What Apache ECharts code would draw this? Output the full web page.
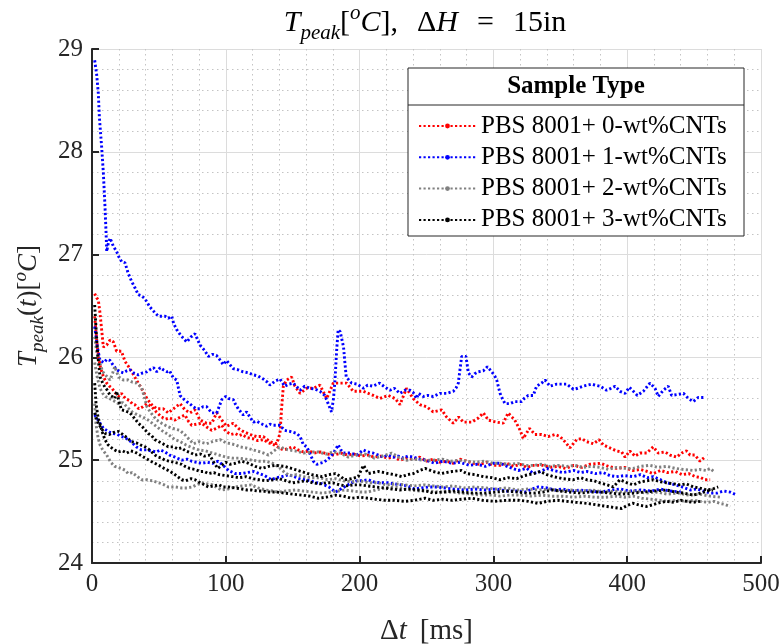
<!DOCTYPE html>
<html><head><meta charset="utf-8">
<script src="https://cdn.jsdelivr.net/npm/echarts@6/dist/echarts.min.js"></script>
<style>html,body{margin:0;padding:0;background:#fff}#c{width:782px;height:644px}</style>
</head><body><div id="c"></div>
<script>
// ---------- data ----------
const sampleNames = ['PBS 8001+ 0-wt%CNTs','PBS 8001+ 1-wt%CNTs','PBS 8001+ 2-wt%CNTs','PBS 8001+ 3-wt%CNTs'];
const xTicks = [0,100,200,300,400,500];
const yTicks = [24,25,26,27,28,29];

const red1 = [[2,26.62],[3.5,26.58],[4.7,26.56],[6,26.43],[7.2,26.27],[8.5,26.10],[11,26.12],[13.5,26.17],[16,26.15],[18.4,26.06],[22,26.06],[24.7,25.96],[28.4,25.89],[31,25.83],[34.6,25.75],[37,25.70],[41,25.60],[44.6,25.54],[48.4,25.50],[53.3,25.50],[57,25.46],[60.8,25.50],[65.8,25.55],[69.5,25.49],[73.2,25.46],[77,25.49],[80.7,25.39],[85.7,25.36],[89.5,25.36],[93.2,25.46],[97,25.39],[100.6,25.33],[105.6,25.36],[109.3,25.31],[113,25.28],[118,25.25],[123,25.23],[128,25.23],[133,25.18],[138,25.16],[140.5,25.26],[141.8,25.52],[143,25.72],[145.5,25.78],[149.2,25.81],[151.7,25.72],[155.5,25.65],[160.5,25.70],[165.4,25.70],[170.4,25.73],[175.4,25.60],[180.3,25.75],[186.6,25.75],[190.3,25.75],[195.3,25.67],[202.8,25.67],[210.2,25.63],[215.2,25.60],[221.4,25.63],[226.5,25.60],[230.2,25.54],[235,25.70],[240,25.60],[245,25.54],[250,25.52],[255,25.47],[261.4,25.49],[265,25.42],[270,25.36],[274,25.42],[277.5,25.37],[283.8,25.37],[288.7,25.41],[292.5,25.46],[296.2,25.39],[302.5,25.37],[307.4,25.36],[311,25.46],[316,25.39],[320,25.29],[322.3,25.21],[327,25.31],[331,25.25],[336,25.25],[341,25.23],[346,25.25],[349.8,25.23],[353.5,25.18],[357.2,25.12],[362.2,25.20],[366,25.21],[369.7,25.18],[374.7,25.16],[379,25.20],[382,25.15],[387,25.12],[392,25.09],[395.9,25.08],[398.4,25.03],[402,25.09],[405.8,25.04],[409.6,25.07],[414.6,25.07],[419.5,25.13],[423.2,25.07],[428.3,25.08],[432,25.05],[437,25.03],[440.7,25.07],[444.4,25.09],[447,25.05],[450.6,25.05],[454.4,24.99],[458,25.03]];

const red2 = [[2,26.4],[3,26.25],[4,26.1],[5,26.0],[6,25.92],[7.5,25.85],[9,25.80],[11,25.75],[13,25.72],[15,25.70],[17,25.66],[20,25.62],[22,25.65],[25,25.60],[28,25.58],[30,25.55],[32,25.54],[35,25.50],[38,25.52],[41,25.55],[44.6,25.52],[48,25.47],[52,25.42],[55,25.40],[58,25.41],[62,25.39],[66,25.42],[69.5,25.44],[72,25.38],[74.5,25.34],[78,25.35],[82,25.36],[86,25.32],[89.5,25.29],[93,25.31],[97,25.34],[100,25.28],[104,25.25],[107,25.26],[110,25.24],[112,25.25],[116,25.22],[120,25.21],[124,25.19],[128,25.20],[132,25.17],[136,25.15],[140,25.12],[143,25.10],[146,25.11],[150,25.13],[154,25.10],[158,25.08],[162,25.09],[166,25.07],[171,25.08],[176,25.06],[181,25.05],[186,25.07],[191,25.05],[196,25.06],[201,25.04],[206,25.05],[211,25.03],[216,25.04],[221,25.02],[226,25.03],[230,25.00],[235,25.02],[240,25.01],[245,25.03],[250,24.99],[255,25.01],[260,24.98],[265,24.99],[270,24.97],[275,25.01],[280,24.99],[285,24.97],[290,24.96],[295,24.98],[300,24.95],[305,24.95],[310,24.97],[315,24.94],[320,24.96],[325,24.93],[330,24.95],[337,24.95],[342,24.93],[348,24.94],[354,24.92],[360,24.95],[366,24.93],[372,24.96],[380,24.97],[386,24.94],[392,24.92],[398,24.93],[404,24.90],[410,24.91],[415,24.89],[419.5,24.87],[425,24.90],[430,24.88],[436,24.89],[441,24.86],[446,24.87],[451,24.84],[455,24.83],[458,24.81],[462,24.81]];

const blue1 = [[2,28.89],[3.5,28.75],[4.7,28.57],[5.5,28.34],[6.3,28.2],[7.2,28.05],[8.5,27.79],[9.7,27.47],[10.4,27.25],[11,27.03],[12,27.1],[13.5,27.16],[16,27.08],[18.4,27.03],[20,26.98],[22.2,26.93],[24.7,26.92],[27,26.82],[29.6,26.74],[32,26.68],[34.6,26.61],[37,26.6],[39.6,26.57],[43.3,26.49],[46,26.45],[49.6,26.40],[52,26.40],[54.6,26.40],[57,26.38],[59.6,26.40],[61,26.33],[63.3,26.27],[66,26.22],[68,26.19],[70.8,26.15],[74,26.2],[77,26.23],[80.7,26.12],[84,26.07],[87,26.01],[90,26.03],[93,26.02],[96,25.97],[98,25.93],[100.6,25.97],[103,25.93],[105.6,25.89],[109,25.88],[113,25.86],[117,25.85],[120.6,25.83],[124,25.82],[128,25.79],[131,25.76],[133,25.73],[137,25.77],[140.5,25.79],[144,25.72],[147,25.74],[150.5,25.75],[155.5,25.68],[159,25.72],[163,25.70],[167,25.69],[170.4,25.67],[174,25.63],[176.5,25.55],[179,25.47],[180.5,25.6],[181.6,25.78],[183,26.1],[184,26.27],[185.5,26.25],[188,26.10],[189,25.95],[190,25.81],[194,25.75],[198,25.74],[203,25.70],[206,25.73],[210,25.72],[215,25.75],[219,25.71],[222.7,25.68],[226,25.70],[230,25.65],[234,25.68],[237.7,25.68],[240,25.66],[242.6,25.60],[244,25.65],[247.6,25.62],[251,25.63],[255,25.62],[260,25.65],[265,25.65],[270,25.67],[272,25.70],[273.8,25.75],[275,25.88],[276.3,26.01],[279.5,26.01],[280.5,25.92],[281.3,25.85],[283.8,25.81],[286,25.84],[288.7,25.86],[292.5,25.87],[295.5,25.91],[298.7,25.86],[301,25.82],[302.5,25.78],[304,25.70],[305,25.65],[307,25.59],[308.7,25.55],[312.4,25.55],[316,25.57],[321,25.57],[323,25.6],[326,25.63],[329.8,25.63],[332.3,25.72],[336,25.75],[338.6,25.78],[342.3,25.72],[347.3,25.74],[351,25.74],[354.8,25.74],[359.8,25.69],[363,25.70],[367,25.72],[373.5,25.74],[376,25.73],[379.7,25.72],[384.6,25.68],[388,25.70],[391,25.72],[394.6,25.67],[398.4,25.65],[401.6,25.71],[404.6,25.67],[407.6,25.63],[412,25.67],[414.5,25.71],[417,25.75],[420.8,25.70],[423.2,25.62],[427,25.68],[430.7,25.72],[433.2,25.63],[438,25.64],[442,25.65],[445.7,25.60],[449.4,25.57],[453,25.61],[458,25.61]];

const blue2 = [[2,26.3],[4,26.1],[6,25.97],[9,25.95],[11,25.98],[13.5,25.97],[16,25.92],[18.4,25.88],[21,25.86],[23.4,25.85],[26,25.87],[28.4,25.88],[31,25.85],[34.6,25.83],[38,25.85],[41,25.86],[43.3,25.88],[46,25.9],[48.4,25.86],[51,25.9],[53.3,25.88],[56,25.86],[58,25.87],[60.8,25.80],[63.3,25.78],[65.8,25.63],[68,25.6],[70.8,25.57],[73,25.55],[75.7,25.52],[78,25.5],[80.7,25.50],[83,25.52],[85.7,25.52],[89.5,25.46],[93.2,25.46],[95,25.52],[97,25.59],[100,25.62],[102,25.60],[105.6,25.59],[107,25.55],[109.3,25.50],[113,25.44],[115.6,25.47],[118,25.42],[120.6,25.37],[123,25.38],[125.6,25.36],[130.6,25.33],[133,25.35],[135.5,25.34],[140.5,25.34],[144,25.29],[148,25.28],[153,25.26],[155.5,25.23],[158,25.15],[160.5,25.13],[163,25.06],[165.4,24.99],[168,24.96],[170.4,24.97],[173,24.98],[175.4,25.0],[178,25.03],[180.3,25.07],[182,25.1],[184,25.15],[186,25.1],[188,25.07],[192.8,25.07],[197.8,25.05],[202.8,25.10],[206,25.08],[210,25.07],[214,25.05],[217.7,25.03],[221,25.05],[225,25.03],[229,25.04],[232.7,25.02],[236,25.04],[240,25.03],[245,25.01],[250,25.0],[256,24.97],[262,24.99],[269,24.97],[275,24.98],[282,24.95],[288,24.96],[294,24.94],[300,24.97],[305,24.97],[312,24.93],[318.6,24.90],[325,24.92],[330,24.87],[335,24.89],[340,24.92],[345,24.90],[352,24.88],[360,24.9],[365,24.88],[370,24.89],[376,24.87],[382,24.88],[387,24.85],[392,24.84],[398,24.85],[404.6,24.84],[410,24.86],[415,24.83],[419.5,24.84],[425,24.81],[430,24.78],[436,24.76],[441,24.74],[447,24.71],[452,24.72],[457,24.70],[462,24.68],[467,24.68],[472,24.70],[477,24.69],[482,24.66]];

const blue3 = [[2,25.44],[4,25.40],[6,25.36],[8.5,25.31],[11,25.29],[13.5,25.27],[16,25.26],[19,25.25],[22,25.23],[24.5,25.22],[27,25.20],[30,25.17],[33,25.13],[37,25.10],[41,25.10],[44.6,25.09],[48,25.08],[51,25.10],[54.6,25.08],[58,25.05],[62,25.03],[67,25.0],[71,25.01],[74.5,24.99],[78,24.98],[82,24.97],[86,24.98],[90,24.97],[94.4,24.99],[98,24.95],[102,24.90],[107,24.87],[112,24.87],[116,24.88],[121,24.89],[125,24.87],[129,24.85],[134,24.81],[138,24.83],[142,24.84],[147,24.86],[151,24.84],[155,24.82],[159,24.81],[163,24.80],[168,24.78],[172,24.77],[177,24.74],[182,24.69],[186,24.72],[190,24.75],[194,24.78],[198,24.80],[202,24.80],[206.5,24.81],[210,24.79],[215,24.78],[221,24.78],[226,24.77],[231,24.76],[236,24.75],[241,24.72],[246,24.73],[252,24.74],[258,24.74],[264,24.73],[270,24.72],[279,24.71],[286,24.72],[294,24.71],[302,24.72],[310,24.70],[317,24.70],[323.6,24.69],[329,24.72],[333.5,24.74],[340,24.73],[346,24.71],[352,24.72],[358,24.70],[365,24.71],[372,24.70],[380,24.69],[388,24.71],[395,24.72],[402,24.70],[410,24.71],[418,24.70],[425,24.72],[432,24.70],[440,24.69]];

const gray1 = [[2,26.2],[3.5,26.05],[6,25.94],[8,25.86],[10,25.83],[13.5,25.78],[15.5,25.85],[17,25.91],[19,25.84],[20,25.81],[23.4,25.78],[27,25.78],[30,25.76],[33.4,25.75],[37,25.71],[39,25.62],[41,25.52],[44,25.46],[48.4,25.39],[52,25.36],[56,25.33],[60,25.31],[65.8,25.29],[70,25.24],[75.7,25.16],[80,25.18],[85.7,25.16],[90,25.18],[95.7,25.20],[100,25.17],[104,25.16],[107,25.15],[110.6,25.13],[115,25.12],[120.6,25.10],[126,25.08],[132,25.05],[136,25.09],[140.5,25.13],[144,25.11],[147,25.10],[152,25.09],[158,25.07],[165.4,25.08],[169,25.08],[175,25.06],[180,25.08],[185.4,25.07],[191.6,25.03],[197,25.05],[204,25.06],[211,25.02],[217,25.04],[224,25.07],[229,25.03],[235,25.0],[241,25.01],[248,25.00],[255,25.0],[262,25.01],[268,24.99],[274,25.0],[280,24.99],[287,24.98],[293,24.99],[300,24.97],[305,24.97],[312,24.96],[318,24.97],[324,24.95],[330,24.95],[336,24.96],[342,24.94],[348,24.95],[354.8,24.94],[361,24.95],[367,24.93],[373,24.94],[380,24.93],[386,24.91],[392,24.93],[398,24.92],[404.6,24.92],[410,24.94],[417,24.95],[423,24.93],[429.5,24.94],[436,24.92],[442,24.91],[449.4,24.90],[454,24.91],[459,24.90],[462,24.92],[465.6,24.88]];

const gray2 = [[2,25.95],[4,25.8],[6,25.7],[8,25.65],[10,25.62],[13,25.6],[16,25.58],[19.7,25.55],[23,25.56],[26,25.52],[30,25.47],[34,25.44],[38,25.42],[42,25.39],[46,25.35],[52,25.29],[57,25.25],[62,25.20],[66,25.18],[70,25.15],[75,25.12],[80,25.10],[85,25.09],[90,25.07],[95,25.05],[100,25.03],[105,25.02],[110,25.02],[115,25.01],[120,25.00],[125,24.99],[130,24.99],[135,24.97],[140,24.93],[144,24.88],[148,24.85],[153,24.86],[158,24.84],[164,24.83],[170,24.83],[176,24.81],[182,24.82],[188,24.80],[194,24.79],[200,24.80],[207,24.78],[214,24.78],[220,24.76],[227,24.77],[234,24.76],[241,24.75],[248,24.76],[255,24.75],[262,24.74],[270,24.75],[278,24.73],[286,24.74],[294,24.73],[302,24.72],[310,24.73],[318,24.71],[326,24.72],[334,24.71],[342,24.72],[350,24.70],[358,24.71],[366,24.70],[374,24.71],[382,24.69],[390,24.70],[398,24.69],[406,24.70],[414,24.68],[422,24.69],[430,24.67],[438,24.68],[446,24.66],[454,24.67],[462,24.65],[470,24.64]];

const gray3 = [[2,25.55],[3,25.35],[4.5,25.22],[6,25.15],[8,25.10],[11,25.05],[14,24.98],[17,24.94],[19.5,24.93],[22,24.92],[25,24.90],[27,24.87],[30,24.88],[32,24.86],[35,24.83],[37,24.81],[41,24.81],[45,24.80],[50,24.78],[54,24.76],[57,24.74],[62,24.74],[67,24.73],[71,24.73],[75,24.74],[78,24.76],[82,24.78],[86,24.77],[90,24.76],[94,24.73],[97,24.71],[102,24.72],[107,24.74],[112,24.75],[119,24.76],[124,24.73],[130,24.71],[135,24.70],[139,24.69],[145,24.70],[152,24.71],[158,24.70],[165,24.69],[172,24.68],[178,24.69],[184,24.70],[189,24.71],[195,24.70],[201,24.69],[206,24.69],[212,24.71],[219,24.73],[225,24.74],[231,24.73],[238,24.71],[245,24.70],[252,24.70],[260,24.69],[268,24.69],[276,24.68],[284,24.67],[292,24.66],[300,24.66],[305,24.65],[312,24.66],[320,24.66],[328,24.65],[336,24.66],[344,24.65],[352,24.65],[360,24.64],[368,24.65],[376,24.64],[384,24.64],[392,24.65],[398,24.64],[404.6,24.65],[411,24.63],[418,24.62],[424,24.61],[430,24.60],[437,24.61],[444,24.60],[450,24.61],[454,24.60],[460,24.59],[465,24.60],[469,24.58],[473,24.57],[477,24.55]];

const black1 = [[2,26.51],[2.8,26.33],[3.6,26.15],[4.5,26.0],[5.3,25.9],[6,25.81],[8,25.75],[9.7,25.71],[11.5,25.68],[13.5,25.63],[15,25.62],[17,25.60],[18.4,25.67],[20,25.58],[22,25.49],[25,25.48],[28.4,25.46],[31,25.42],[34.6,25.36],[38,25.32],[42,25.26],[44.5,25.24],[47,25.20],[50,25.18],[53,25.16],[57,25.13],[61,25.13],[64,25.11],[67,25.12],[70,25.09],[74,25.07],[77,25.05],[81,25.06],[84,25.04],[88,25.05],[91,24.98],[94,24.92],[97,24.95],[100,24.98],[103,24.96],[107,24.97],[112,24.99],[117,24.97],[122,24.94],[127,24.92],[132,24.94],[137,24.95],[144,24.94],[149,24.92],[154,24.90],[159,24.88],[164,24.86],[168,24.85],[172,24.84],[177,24.86],[182,24.87],[186,24.84],[189,24.81],[194,24.82],[199,24.84],[201,24.90],[203,24.95],[206.5,24.87],[210,24.88],[214,24.89],[218,24.88],[221.5,24.87],[226,24.86],[231.5,24.84],[236,24.86],[240,24.87],[245,24.90],[249,24.92],[255,24.89],[261,24.87],[265,24.88],[269,24.89],[276,24.90],[280,24.87],[286,24.86],[292.5,24.84],[299,24.83],[305,24.81],[311,24.83],[317.4,24.82],[323,24.85],[330,24.87],[335,24.89],[340,24.86],[344.8,24.84],[352,24.82],[359.7,24.81],[365,24.83],[369.7,24.81],[375,24.80],[379.7,24.78],[385,24.76],[389.6,24.74],[394.6,24.81],[400,24.78],[404.6,24.76],[410,24.79],[415,24.80],[419.5,24.81],[425,24.79],[429.5,24.78],[435,24.77],[439.5,24.76],[444,24.77],[449.4,24.74],[454,24.73],[459.4,24.71],[464,24.72],[468,24.74]];

const black2 = [[2,25.46],[4,25.38],[6,25.33],[8,25.29],[10,25.26],[13,25.25],[16,25.27],[19.7,25.28],[23,25.25],[26,25.22],[29.6,25.18],[33,25.17],[36,25.15],[39.6,25.13],[42,25.11],[44.6,25.08],[47,25.05],[49.6,25.03],[52,25.02],[54.6,25.0],[58,24.99],[61,24.98],[64.5,24.97],[67,24.96],[69.5,24.94],[73,24.92],[77,24.91],[81,24.89],[84,24.89],[87,24.87],[91,24.88],[95,24.86],[100,24.85],[105,24.84],[110,24.83],[115,24.84],[120,24.82],[125,24.81],[130,24.80],[135,24.81],[140,24.82],[145,24.80],[150,24.78],[155,24.79],[160,24.80],[165,24.78],[170,24.77],[175,24.78],[180,24.78],[185,24.76],[190,24.75],[195,24.76],[200,24.76],[206,24.75],[212,24.74],[219,24.73],[224,24.72],[230,24.71],[237,24.72],[244,24.71],[250,24.70],[255,24.68],[262,24.69],[270,24.70],[277,24.69],[285,24.68],[294,24.68],[302,24.69],[310,24.70],[318,24.69],[325,24.68],[330,24.68],[337,24.69],[344,24.71],[350,24.70],[357,24.69],[365,24.68],[372,24.69],[380,24.69],[388,24.68],[396,24.67],[404.6,24.68],[412,24.69],[420,24.70],[429.5,24.71],[436,24.69],[442,24.68],[449.4,24.66],[455,24.68],[460,24.70],[464,24.71]];

const black3 = [[2,25.75],[3,25.55],[4.5,25.42],[6,25.35],[8,25.26],[9.7,25.20],[12,25.15],[14.7,25.12],[17,25.10],[19.7,25.08],[23,25.09],[26,25.07],[29,25.09],[32,25.08],[36,25.05],[40,25.02],[44,24.99],[47,24.97],[50,24.95],[54,24.92],[57,24.90],[61,24.87],[64,24.84],[67,24.81],[70,24.80],[74,24.82],[77,24.81],[81,24.78],[84,24.76],[87,24.74],[91,24.75],[95,24.76],[98,24.74],[102,24.74],[107,24.73],[112,24.72],[116,24.71],[119,24.71],[124,24.70],[128,24.70],[132,24.69],[138,24.69],[144,24.68],[150,24.67],[157,24.66],[163,24.65],[169,24.63],[175,24.64],[182,24.66],[188,24.65],[194,24.63],[200,24.64],[206.5,24.63],[212,24.62],[219,24.61],[226,24.61],[234,24.60],[241,24.61],[249,24.63],[255,24.61],[262,24.62],[269,24.61],[276,24.62],[284,24.63],[292,24.61],[301,24.60],[310,24.61],[319,24.61],[326,24.60],[333.5,24.58],[340,24.60],[348,24.61],[355,24.60],[362,24.59],[369.7,24.58],[375,24.57],[379.7,24.56],[385,24.55],[390,24.54],[395.9,24.53],[400,24.56],[404.6,24.58],[410,24.56],[414.6,24.55],[420,24.57],[425,24.59],[429.5,24.60],[435,24.59],[440,24.61],[444.4,24.60],[449,24.59],[454.4,24.60]];

// ---------- chart ----------
const FONT = "'Liberation Serif','Times New Roman',serif";
const TXT = '#262626';
const colors = ['#ff0000','#0000ff','#808080','#000000'];

function rich(size, spw) {
  const lh = Math.round(size * 1.35);
  return {
    n:   {fontFamily: FONT, fontSize: size, lineHeight: lh, color: TXT},
    i:   {fontFamily: FONT, fontSize: size, fontStyle: 'italic', lineHeight: lh, color: TXT},
    sub: {fontFamily: FONT, fontSize: Math.round(size * 0.7), fontStyle: 'italic', lineHeight: Math.round(size*0.7), verticalAlign: 'bottom', color: TXT},
    sup: {fontFamily: FONT, fontSize: Math.round(size * 0.7), fontStyle: 'italic', lineHeight: Math.round(size*0.7), verticalAlign: 'top', color: TXT},
    sp:  {fontFamily: FONT, fontSize: size, lineHeight: lh, width: Math.round(size*(spw || 0.35))}
  };
}

function mk(name, data, color) {
  return {
    name: name, type: 'line', data: data,
    showSymbol: false, symbol: 'circle', symbolSize: 5,
    lineStyle: {color: color, width: 2.9, type: [2.2, 2.3]},
    itemStyle: {color: color},
    animation: false, silent: true
  };
}

const series = [
  mk(sampleNames[0], red1, colors[0]),
  mk(sampleNames[0], red2, colors[0]),
  mk(sampleNames[1], blue1, colors[1]),
  mk(sampleNames[1], blue2, colors[1]),
  mk(sampleNames[1], blue3, colors[1]),
  mk(sampleNames[2], gray1, colors[2]),
  mk(sampleNames[2], gray2, colors[2]),
  mk(sampleNames[2], gray3, colors[2]),
  mk(sampleNames[3], black1, colors[3]),
  mk(sampleNames[3], black2, colors[3]),
  mk(sampleNames[3], black3, colors[3])
];

const chart = echarts.init(document.getElementById('c'), null, {renderer: 'canvas'});
const axisCommon = {
  axisLine: {show: true, lineStyle: {color: TXT, width: 2}},
  axisTick: {show: true, inside: true, length: 7, lineStyle: {color: TXT, width: 2}},
  splitLine: {show: true, lineStyle: {color: '#dcdcdc', width: 1}},
  minorTick: {show: false, splitNumber: 5},
  minorSplitLine: {show: true, lineStyle: {color: '#c4c4c4', width: 1, type: [1.5, 3.5]}},
  axisLabel: {fontFamily: FONT, fontSize: 25, color: TXT, margin: 9}
};

chart.setOption({
  backgroundColor: '#ffffff',
  animation: false,
  grid: {left: 92, right: 21, top: 49, bottom: 81, containLabel: false, outerBoundsMode: 'none'},
  xAxis: Object.assign({}, axisCommon, {
    type: 'value', min: xTicks[0], max: xTicks[xTicks.length-1], interval: 100,
    name: '{n|Δ}{i|t}{sp|}{n|[ms]}', nameLocation: 'middle', nameGap: 49,
    nameTextStyle: {rich: rich(29, 0.45)}
  }),
  yAxis: Object.assign({}, axisCommon, {
    type: 'value', min: yTicks[0], max: yTicks[yTicks.length-1], interval: 1,
    name: '{i|T}{sub|peak}{n|(}{i|t}{n|)[}{sup|o}{i|C}{n|]}', nameLocation: 'middle', nameGap: 44, nameRotate: 90,
    nameTextStyle: {rich: rich(27)}
  }),
  legend: {
    data: sampleNames,
    orient: 'vertical', left: 413, top: 108,
    itemWidth: 57, itemHeight: 6, itemGap: 5.3,
    textStyle: {fontFamily: FONT, fontSize: 25, color: '#000', lineHeight: 26},
    selectedMode: false
  },
  graphic: [
    {type: 'rect', z: 3, shape: {x: 408, y: 68, width: 336, height: 168},
     style: {fill: '#ffffff', stroke: '#262626', lineWidth: 1}},
    {type: 'line', z: 3, shape: {x1: 408, y1: 105, x2: 744, y2: 105},
     style: {stroke: '#262626', lineWidth: 1}},
    {type: 'text', z: 5, x: 576, y: 87,
     style: {text: 'Sample Type', fontFamily: FONT, fontSize: 25, fontWeight: 'bold', fill: '#000', align: 'center', verticalAlign: 'middle'}},
    {type: 'text', z: 5, x: 425, y: 23,
     style: {text: '{i|T}{sub|peak}{n|[}{sup|o}{i|C}{n|],}{sp|}{n|Δ}{i|H}{sp|}{n|=}{sp|}{n|15in}', rich: rich(30, 0.62), align: 'center', verticalAlign: 'middle'}}
  ],
  series: series
});
</script>
</body></html>
